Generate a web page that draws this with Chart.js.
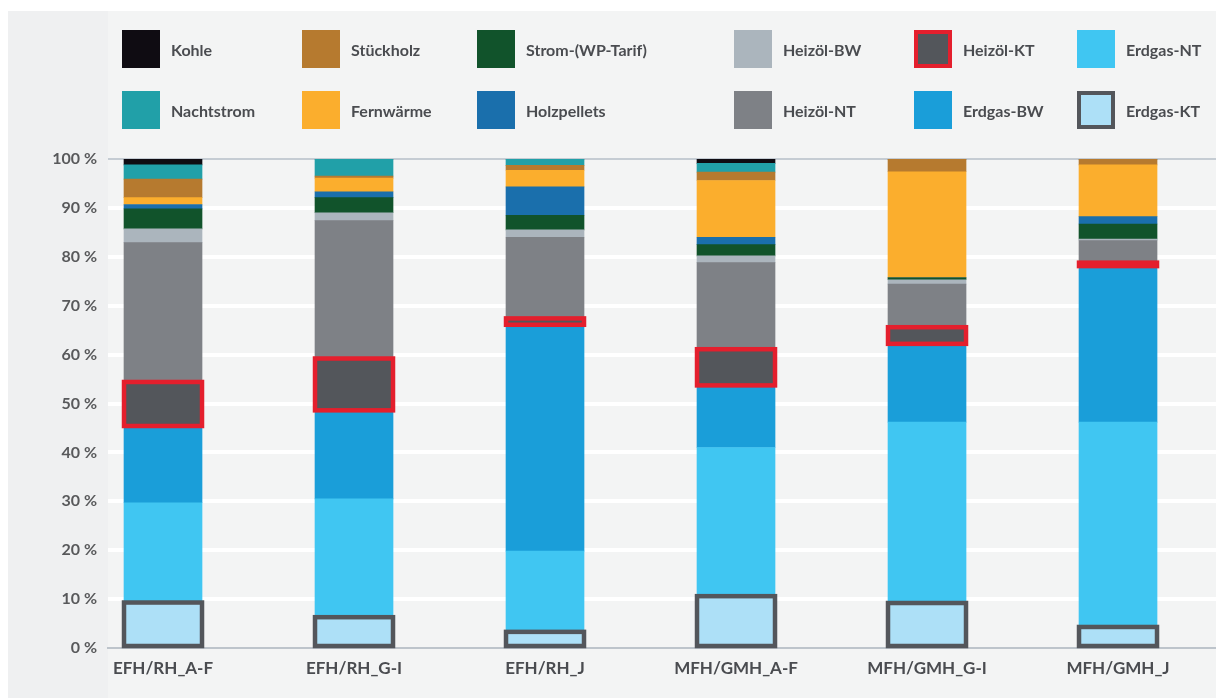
<!DOCTYPE html>
<html lang="de">
<head>
<meta charset="utf-8">
<title>Energieträger-Anteile</title>
<script src="https://cdn.jsdelivr.net/npm/chart.js@4/dist/chart.umd.min.js"></script>
<style>
    html, body { margin: 0; padding: 0; background: #ffffff; }
    #wrap { position: relative; width: 1216px; height: 698px; overflow: hidden; }
    #panel { position: absolute; left: 8px; top: 11px; right: 0; bottom: 0; background: #eff0f1; }
    #plotBg { position: absolute; left: 108px; top: 11px; right: 0; bottom: 0; background: #f3f4f4; }
    #chart { position: absolute; left: 0; top: 0; }
    #legend {
        position: absolute; left: 122px; top: 30px;
        display: grid;
        grid-template-columns: 180px 175px 257px 180px 163px 140px;
        grid-auto-rows: 38px;
        row-gap: 23px;
        font-family: Lato, "Open Sans", sans-serif;
        font-weight: 700; font-size: 16px; color: #4a4c50;
    }
    .item { display: flex; align-items: center; }
    .swatch { width: 38px; height: 38px; box-sizing: border-box; margin-right: 11px; flex: none; }
</style>
</head>
<body>
<div id="wrap">
    <div id="panel"></div>
    <div id="plotBg"></div>
    <canvas id="chart" width="1216" height="698"></canvas>
    <div id="legend"></div>
</div>
<script>
// categories
const categories = ["EFH/RH_A-F", "EFH/RH_G-I", "EFH/RH_J", "MFH/GMH_A-F", "MFH/GMH_G-I", "MFH/GMH_J"];

// shares in %, stacked from bottom to top
const erdgasKT   = [9.3, 6.3, 3.3, 10.6, 9.2, 4.3];
const erdgasNT   = [20.4, 24.2, 16.5, 30.4, 37.0, 41.9];
const erdgasBW   = [15.7, 18.1, 46.3, 12.7, 16.0, 31.9];
const heizoelKT  = [9.0, 10.6, 1.3, 7.4, 3.4, 0.7];
const heizoelNT  = [28.5, 28.2, 16.6, 17.7, 8.8, 4.5];
const heizoelBW  = [2.8, 1.6, 1.5, 1.4, 0.9, 0.3];
const strom      = [4.1, 3.1, 3.0, 2.3, 0.4, 3.1];
const holzpellets = [0.9, 1.2, 5.8, 1.5, 0, 1.5];
const fernwaerme = [1.4, 2.8, 3.4, 11.6, 21.7, 10.6];
const stueckholz = [3.8, 0.4, 1.0, 1.7, 2.6, 1.2];
const nachtstrom = [2.9, 3.5, 1.3, 1.8, 0, 0];
const kohle      = [1.2, 0, 0, 0.9, 0, 0];

const yTicks = [0, 10, 20, 30, 40, 50, 60, 70, 80, 90, 100];

// series: name, values, fill colour, outline colour (or null)
const series = [
    ["Erdgas-KT", erdgasKT, "#ade0f7", "#53565b"],
    ["Erdgas-NT", erdgasNT, "#40c6f2", null],
    ["Erdgas-BW", erdgasBW, "#1a9ed9", null],
    ["Heizöl-KT", heizoelKT, "#53565b", "#e41f2d"],
    ["Heizöl-NT", heizoelNT, "#7e8186", null],
    ["Heizöl-BW", heizoelBW, "#abb5bd", null],
    ["Strom-(WP-Tarif)", strom, "#11532b", null],
    ["Holzpellets", holzpellets, "#1a6fac", null],
    ["Fernwärme", fernwaerme, "#fbae2d", null],
    ["Stückholz", stueckholz, "#b67a2f", null],
    ["Nachtstrom", nachtstrom, "#21a0a8", null],
    ["Kohle", kohle, "#0f0c12", null]
];

// legend reading order (two rows of six)
const legendOrder = [
    "Kohle", "Stückholz", "Strom-(WP-Tarif)", "Heizöl-BW", "Heizöl-KT", "Erdgas-NT",
    "Nachtstrom", "Fernwärme", "Holzpellets", "Heizöl-NT", "Erdgas-BW", "Erdgas-KT"
];

const datasets = series.map(s => ({
    label: s[0],
    data: s[1].map((v, i) => ({ x: i, y: v })),
    backgroundColor: s[2],
    outlineColor: s[3],
    borderWidth: 0,
    barThickness: 78
}));

// outlined segments: stroke centred on the bar edges, like the original
const outlinePlugin = {
    id: "outline",
    afterDatasetsDraw(chart) {
        const ctx = chart.ctx;
        chart.data.datasets.forEach((ds, di) => {
            if (!ds.outlineColor) return;
            chart.getDatasetMeta(di).data.forEach(el => {
                const p = el.getProps(["x", "y", "base", "width"], true);
                const top = Math.min(p.y, p.base);
                const h = Math.abs(p.base - p.y);
                if (h <= 0) return;
                ctx.save();
                ctx.strokeStyle = ds.outlineColor;
                ctx.lineWidth = 4.5;
                ctx.strokeRect(p.x - p.width / 2, top, p.width, h);
                ctx.restore();
            });
        });
    }
};

new Chart(document.getElementById("chart"), {
    type: "bar",
    data: { datasets: datasets },
    options: {
        responsive: false,
        animation: false,
        layout: { padding: { top: 159, left: 0, right: 0, bottom: 0 } },
        plugins: {
            legend: { display: false },
            tooltip: { enabled: false }
        },
        scales: {
            x: {
                type: "linear",
                stacked: true,
                offset: false,
                min: -0.288,
                max: 5.513,
                afterFit: scale => { scale.height = 50; },
                grid: { display: false, drawTicks: false },
                border: { display: true, color: "#bdc4cb", width: 2 },
                ticks: {
                    stepSize: 1,
                    includeBounds: false,
                    padding: 10,
                    color: "#4a4c50",
                    font: { family: "Lato", size: 17, weight: "bold" },
                    callback: v => categories[v] ?? ""
                }
            },
            y: {
                stacked: true,
                min: 0,
                max: 100,
                afterFit: scale => { scale.width = 108; },
                afterBuildTicks: scale => { scale.ticks = yTicks.map(v => ({ value: v })); },
                border: { display: false },
                grid: {
                    drawTicks: false,
                    color: c => c.tick.value === 100 ? "#c5ccd3" : (c.tick.value === 0 ? "rgba(0,0,0,0)" : "#ffffff"),
                    lineWidth: c => c.tick.value === 100 ? 2 : 4
                },
                ticks: {
                    padding: 11,
                    color: "#58595b",
                    font: { family: "Lato", size: 16, weight: "bold" },
                    callback: v => v + " %"
                }
            }
        }
    },
    plugins: [outlinePlugin]
});

// HTML legend
const legendEl = document.getElementById("legend");
legendOrder.forEach(name => {
    const s = series.find(x => x[0] === name);
    const item = document.createElement("div");
    item.className = "item";
    const sw = document.createElement("span");
    sw.className = "swatch";
    sw.style.background = s[2];
    if (s[3]) sw.style.border = "4px solid " + s[3];
    const txt = document.createElement("span");
    txt.textContent = name;
    item.appendChild(sw);
    item.appendChild(txt);
    legendEl.appendChild(item);
});
</script>
</body>
</html>
